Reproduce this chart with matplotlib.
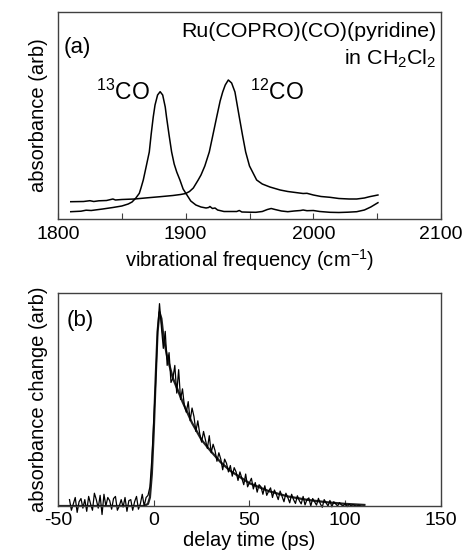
import numpy as np
import matplotlib
matplotlib.use("Agg")
import matplotlib.pyplot as plt

plt.rcParams["font.family"] = ["Liberation Sans", "DejaVu Sans"]
plt.rcParams["mathtext.fontset"] = "custom"
plt.rcParams["mathtext.rm"] = "Liberation Sans"
plt.rcParams["mathtext.it"] = "Liberation Sans:italic"
plt.rcParams["mathtext.default"] = "rm"
plt.rcParams["axes.unicode_minus"] = False

# ---------------------------------------------------------------------------
# (a) FTIR spectra (absorbance in arbitrary units)
# ---------------------------------------------------------------------------
freq_13co = [1810, 1818, 1822, 1826, 1835, 1843, 1850, 1855, 1858, 1861, 1863.7,
             1865, 1866.8, 1869, 1871.5, 1873, 1874.6, 1876, 1878, 1880, 1882,
             1884, 1885, 1887, 1889, 1891, 1893, 1895.5, 1898, 1901, 1904, 1908,
             1912, 1916, 1918, 1919, 1921, 1923, 1925, 1930, 1935, 1940, 1942,
             1944, 1950, 1955, 1960, 1964, 1967, 1970, 1975, 1980, 1985, 1990,
             1992, 1995, 2000, 2005, 2013, 2020, 2027, 2034, 2040, 2045, 2050.6]
abs_13co = [7.3, 7.8, 8.8, 8.5, 10, 11.5, 13, 15, 17, 21, 25.7,
            31, 39, 52, 67, 85, 102, 114, 124, 127.3, 124,
            112, 102, 84, 67, 55, 47, 39, 30, 24, 18, 14,
            12, 11, 11.5, 12.5, 10.5, 11, 9, 7.5, 7.5, 7.5, 8.5,
            7, 6.8, 6.7, 7.5, 9.5, 10.5, 9.5, 8, 7.3, 8, 8.5,
            9, 8.3, 8.5, 7.5, 6.7, 6.5, 6.8, 7.3, 9, 12, 16.3]

freq_12co = [1810, 1820, 1825, 1828, 1832, 1838, 1843, 1845, 1850, 1860, 1870,
             1880, 1890, 1896, 1900, 1903, 1906, 1909.8, 1912, 1915, 1918.5,
             1921, 1924.3, 1927, 1929, 1931, 1933.4, 1936, 1938.6, 1942, 1944.5,
             1947, 1950, 1955.6, 1960, 1966, 1974, 1980, 1986, 1992, 1995, 2000,
             2006, 2013, 2020, 2028, 2034, 2040, 2044, 2050.6]
abs_12co = [17.3, 17.5, 18.3, 17.5, 18.2, 18.5, 20, 19, 19.5, 20, 21.2,
            22.3, 23.5, 24.5, 25.5, 27.5, 31, 39, 44, 53, 67,
            82, 102, 118, 127, 134, 139, 136, 127, 102, 84,
            67, 53, 39, 35, 32, 29, 27.5, 26.5, 25.5, 25.7, 24,
            22.5, 21.7, 20.5, 20, 20, 21, 22.3, 24]

# ---------------------------------------------------------------------------
# (b) transient absorbance change vs delay, data and fit (arb)
# ---------------------------------------------------------------------------
delay_data = list(range(-44, 109))
signal_data = [
    0.03, -0.02, 0.01, 0.04, -0.03, 0.02, 0.035, -0.01, 0.03, -0.025,     # -44..-35
    0.045, 0.01, -0.02, 0.06, 0.03, -0.01, 0.05, -0.04, 0.055, 0.0,       # -34..-25
    0.04, 0.025, -0.015, 0.035, 0.045, -0.02, 0.0, 0.03, -0.005, 0.04,    # -24..-15
    -0.025, 0.025, 0.03, -0.02, 0.02, 0.045, -0.015, 0.01, 0.055, 0.0,    # -14..-5
    0.04, 0.05, 0.09, 0.22, 0.4, 0.58, 0.82, 0.95, 0.84, 0.74,            # -4..5
    0.82, 0.66, 0.72, 0.58, 0.6, 0.66, 0.53, 0.64, 0.5, 0.55,             # 6..15
    0.47, 0.44, 0.49, 0.4, 0.46, 0.42, 0.35, 0.4, 0.34, 0.3,              # 16..25
    0.35, 0.31, 0.27, 0.33, 0.25, 0.29, 0.26, 0.21, 0.25, 0.22,           # 26..35
    0.17, 0.22, 0.2, 0.16, 0.19, 0.14, 0.18, 0.16, 0.12, 0.16,            # 36..45
    0.13, 0.1, 0.15, 0.09, 0.11, 0.13, 0.08, 0.11, 0.065, 0.1,            # 46..55
    0.09, 0.055, 0.095, 0.05, 0.07, 0.085, 0.04, 0.075, 0.055, 0.03,      # 56..65
    0.07, 0.045, 0.02, 0.06, 0.04, 0.015, 0.055, 0.03, 0.012, 0.048,      # 66..75
    0.025, 0.01, 0.045, 0.005, 0.03, 0.038, 0.0, 0.035, 0.02, 0.004,      # 76..85
    0.036, 0.01, -0.006, 0.03, 0.015, 0.0, 0.026, -0.004, 0.02, 0.01,     # 86..95
    0.0, 0.016, 0.005, 0.0, 0.012, -0.003, 0.008, 0.0, 0.006, 0.002,      # 96..105
    0.0, 0.004, 0.0,                                                      # 106..108
]

delay_fit = [-50, -5, -3, -2, -1, 0, 1, 2, 3, 4, 5, 7, 10, 15, 20, 25, 30, 35,
             40, 50, 60, 70, 80, 90, 100, 110]
signal_fit = [0.0, 0.0, 0.01, 0.04, 0.15, 0.35, 0.6, 0.82, 0.91, 0.88, 0.8, 0.7,
              0.6, 0.49, 0.39, 0.31, 0.255, 0.205, 0.165, 0.107, 0.07, 0.045,
              0.029, 0.018, 0.01, 0.005]

W, H = 464, 552
fig = plt.figure(figsize=(W / 100, H / 100), dpi=100)

spine_col = "#404040"
fs_tick = 14
fs_lab = 14.5
fs_note = 15.4


def style(ax):
    for s in ax.spines.values():
        s.set_color(spine_col)
        s.set_linewidth(1.0)
    ax.set_yticks([])
    ax.tick_params(axis="x", which="both", direction="in", length=4,
                   width=0.8, color=spine_col, labelsize=fs_tick, pad=5)


# -- panel (a) --------------------------------------------------------------
ax = fig.add_axes([58 / W, 1 - 219 / H, 383 / W, 207 / H])
ax.plot(freq_13co, abs_13co, color="k", lw=1.1)
ax.plot(freq_12co, abs_12co, color="k", lw=1.1)
ax.set_xlim(1800, 2100)
ax.set_ylim(0, 207)
ax.set_xticks([1800, 1900, 2000, 2100])
ax.set_xticks([1850, 1950, 2050], minor=True)
style(ax)
ax.set_xlabel("vibrational frequency (cm$^{-1}$)", fontsize=fs_lab, labelpad=3)
ax.set_ylabel("absorbance (arb)", fontsize=fs_lab, labelpad=7)
ax.text(0.014, 0.80, "(a)", transform=ax.transAxes, fontsize=16)
ax.text(0.987, 0.88, "Ru(COPRO)(CO)(pyridine)", transform=ax.transAxes,
        fontsize=fs_note, ha="right")
ax.text(0.987, 0.744, "in CH$_2$Cl$_2$", transform=ax.transAxes,
        fontsize=fs_note, ha="right")
ax.text(1830, 119, "$^{13}$CO", fontsize=16.5)
ax.text(1950, 119, "$^{12}$CO", fontsize=16.5)

# -- panel (b) --------------------------------------------------------------
bx = fig.add_axes([58 / W, 1 - 506 / H, 383 / W, 213 / H])
bx.plot(delay_fit, signal_fit, color="#202020", lw=1.6)
bx.plot(delay_data, signal_data, color="k", lw=0.9, clip_on=False)
bx.set_xlim(-50, 150)
bx.set_ylim(0, 1.0)
bx.set_xticks([-50, 0, 50, 100, 150])
style(bx)
bx.tick_params(axis="x", pad=4)
bx.set_xlabel("delay time (ps)", fontsize=fs_lab, labelpad=2)
bx.set_ylabel("absorbance change (arb)", fontsize=fs_lab, labelpad=7)
bx.text(0.023, 0.845, "(b)", transform=bx.transAxes, fontsize=16)

fig.savefig("out.png", dpi=100)
